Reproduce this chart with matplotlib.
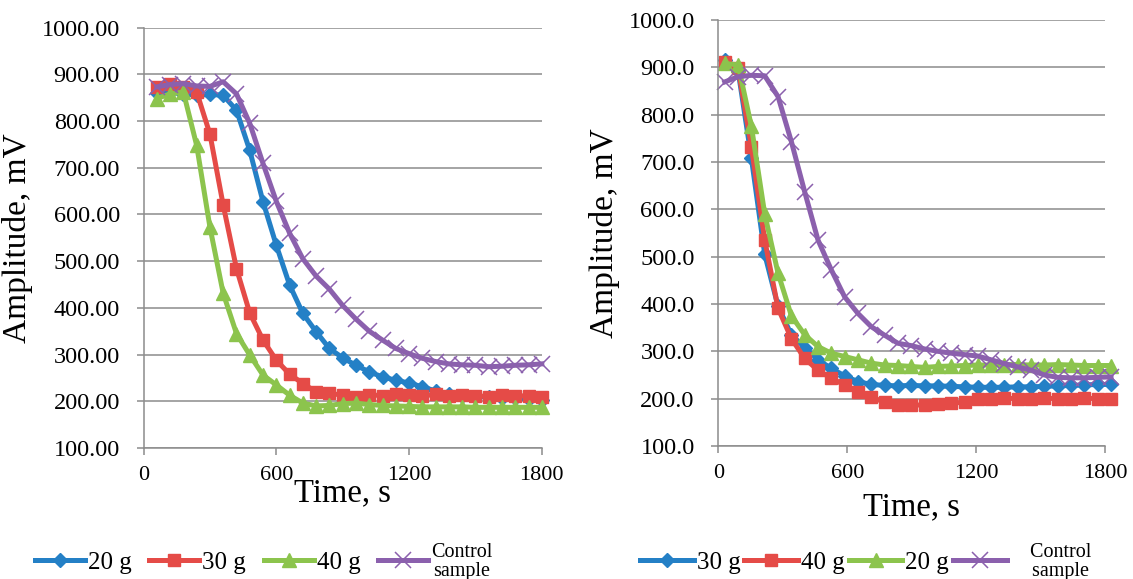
import matplotlib
matplotlib.use("Agg")
import matplotlib.pyplot as plt
from matplotlib.ticker import FormatStrFormatter

plt.rcParams["font.family"] = ["Liberation Serif", "DejaVu Serif"]

# ---- left panel data (time in s, amplitude in mV) ----
time_left = [60, 120, 180, 240, 300, 360, 420, 480, 540, 600,
             660, 720, 780, 840, 900, 960, 1020, 1080, 1140, 1200,
             1260, 1320, 1380, 1440, 1500, 1560, 1620, 1680, 1740, 1800]
left_20g = [860, 862, 858, 855, 857, 855, 823, 737, 627, 534,
            449, 388, 349, 313, 293, 277, 263, 252, 245, 239,
            231, 222, 215, 212, 210, 209, 208, 207, 205, 203]
left_30g = [873, 880, 873, 862, 772, 620, 484, 389, 331, 288,
            258, 238, 220, 217, 213, 210, 214, 212, 216, 213,
            211, 215, 212, 214, 212, 210, 213, 211, 212, 210]
left_40g = [848, 858, 862, 748, 573, 431, 345, 299, 256, 235,
            213, 196, 190, 191, 195, 196, 193, 191, 190, 189,
            188, 188, 188, 188, 187, 187, 187, 187, 187, 187]
left_control = [873, 878, 880, 875, 874, 884, 858, 795, 709, 628,
                560, 505, 468, 440, 405, 376, 350, 331, 313, 302,
                292, 285, 280, 278, 277, 274, 275, 277, 278, 280]
left_labels = ["20 g", "30 g", "40 g", "Control\nsample"]

# ---- right panel data ----
time_right = [30, 92, 154, 216, 278, 340, 402, 464, 526, 588,
              650, 712, 774, 836, 898, 960, 1022, 1084, 1146, 1208,
              1270, 1332, 1394, 1456, 1518, 1580, 1642, 1704, 1766, 1828]
right_30g = [916, 893, 708, 505, 395, 335, 308, 282, 264, 248,
             236, 230, 228, 227, 228, 227, 227, 226, 225, 224,
             224, 224, 225, 225, 226, 227, 228, 229, 230, 230]
right_40g = [912, 898, 732, 535, 391, 327, 285, 260, 243, 229,
             215, 204, 192, 187, 186, 187, 189, 190, 193, 200,
             200, 201, 200, 200, 201, 200, 200, 201, 200, 200]
right_20g = [908, 905, 775, 590, 465, 375, 335, 310, 296, 289,
             282, 275, 271, 270, 268, 266, 268, 269, 270, 271,
             271, 272, 272, 271, 271, 272, 271, 270, 270, 270]
right_control = [869, 880, 883, 882, 838, 743, 637, 535, 472, 415,
                 380, 352, 334, 317, 312, 305, 300, 296, 293, 290,
                 282, 274, 267, 260, 250, 245, 244, 244, 245, 246]
right_labels = ["30 g", "40 g", "20 g", "    Control\n    sample"]

x_ticks = [0, 600, 1200, 1800]
y_ticks = [100, 200, 300, 400, 500, 600, 700, 800, 900, 1000]

BLUE = "#2480c6"
RED = "#e54b47"
GREEN = "#8cc44d"
PURPLE = "#8b60ad"
GRID = "#8c8c8c"

styles = [
    dict(color=BLUE, marker="D", markersize=7.5),
    dict(color=RED, marker="s", markersize=8.5),
    dict(color=GREEN, marker="^", markersize=9.5),
    dict(color=PURPLE, marker="x", markersize=12, markeredgewidth=1.1),
]

fig = plt.figure(figsize=(11.33, 5.79), dpi=100)
ax_l = fig.add_axes([0.1267, 0.2263, 0.3515, 0.7261])
ax_r = fig.add_axes([0.634, 0.2297, 0.3413, 0.7359])


def draw_panel(ax, t, series, labels, fmt, xlabel_pad,
               leg_anchor, col_space, handle_len):
    handles = []
    for y, st, lab in zip(series, styles, labels):
        h, = ax.plot(t, y, linewidth=3.6, label=lab, clip_on=False,
                     solid_joinstyle="round", **st)
        handles.append(h)
    ax.set_xlim(0, 1800)
    ax.set_ylim(100, 1000)
    ax.set_xticks(x_ticks)
    ax.set_yticks(y_ticks)
    ax.yaxis.set_major_formatter(FormatStrFormatter(fmt))
    ax.grid(axis="y", color=GRID, linewidth=1.1)
    ax.set_axisbelow(True)
    for side in ("top", "right"):
        ax.spines[side].set_visible(False)
    for side in ("left", "bottom"):
        ax.spines[side].set_color(GRID)
        ax.spines[side].set_linewidth(1.1)
    ax.tick_params(axis="both", colors=GRID, length=5, width=1.1,
                   labelcolor="black")
    ax.tick_params(axis="x", pad=8, labelsize=16)
    ax.tick_params(axis="y", pad=12, labelsize=17.5)
    ax.set_xlabel("Time, s", fontsize=23.5, labelpad=xlabel_pad)
    ax.set_ylabel("Amplitude, mV", fontsize=24, labelpad=6)
    leg = fig.legend(handles=handles, loc="center left",
                     bbox_to_anchor=leg_anchor, ncol=4, frameon=False,
                     fontsize=18, handlelength=handle_len,
                     handletextpad=0.12, columnspacing=col_space,
                     borderaxespad=0, borderpad=0)
    texts = leg.get_texts()
    for txt in texts:
        txt.set_multialignment("center")
    # the two-line entry is set in a smaller size
    texts[-1].set_fontsize(14.5)
    texts[-1].set_linespacing(1.0)
    return leg


draw_panel(ax_l, time_left, [left_20g, left_30g, left_40g, left_control],
           left_labels, "%.2f", -5, (0.031, 0.029), 0.7, 2.0)
draw_panel(ax_r, time_right, [right_30g, right_40g, right_20g, right_control],
           right_labels, "%.1f", 6, (0.565, 0.029), 0.15, 2.15)

fig.savefig("out.png", dpi=100)
